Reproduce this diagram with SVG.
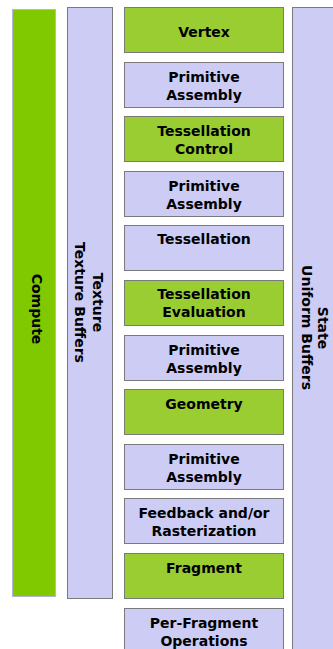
<svg xmlns="http://www.w3.org/2000/svg" width="333" height="649" viewBox="0 0 333 649">
<style>
.g{fill:#9acd32;stroke:#7a7a7a;stroke-width:1}
.l{fill:#ccccf4;stroke:#7a7a7a;stroke-width:1}
.c{fill:#80c800;stroke:#b4b4dc;stroke-width:1}
text{font-family:"DejaVu Sans","Liberation Sans",sans-serif;font-weight:bold;font-size:14px;fill:#000;text-anchor:middle}
</style>
<rect width="333" height="649" fill="#fff"/>
<g id="compute"><rect class="c" x="12.5" y="9.5" width="43" height="587"/><text font-size="16" transform="translate(31.5,309) rotate(90)">Compute</text></g>
<g id="texture"><rect class="l" x="67.5" y="7.5" width="45" height="591"/><text transform="translate(93,302.5) rotate(90)">Texture</text><text transform="translate(74.5,302.5) rotate(90)">Texture Buffers</text></g>
<g id="state"><rect class="l" x="292.5" y="7.5" width="50" height="660"/><text transform="translate(318,328) rotate(90)">State</text><text transform="translate(301.5,327.5) rotate(90)">Uniform Buffers</text></g>
<g id="vertex"><rect class="g" x="124.5" y="7.5" width="159" height="45"/><text x="204" y="36.5">Vertex</text></g>
<g id="pa1"><rect class="l" x="124.5" y="62.5" width="159" height="45"/><text x="204" y="81.5">Primitive</text><text x="204" y="100">Assembly</text></g>
<g id="tc"><rect class="g" x="124.5" y="116.5" width="159" height="45"/><text x="204" y="135.5">Tessellation</text><text x="204" y="154">Control</text></g>
<g id="pa2"><rect class="l" x="124.5" y="171.5" width="159" height="45"/><text x="204" y="190.5">Primitive</text><text x="204" y="209">Assembly</text></g>
<g id="tess"><rect class="l" x="124.5" y="225.5" width="159" height="45"/><text x="204" y="244">Tessellation</text></g>
<g id="te"><rect class="g" x="124.5" y="280.5" width="159" height="45"/><text x="204" y="299">Tessellation</text><text x="204" y="317">Evaluation</text></g>
<g id="pa3"><rect class="l" x="124.5" y="335.5" width="159" height="45"/><text x="204" y="354.5">Primitive</text><text x="204" y="373">Assembly</text></g>
<g id="geometry"><rect class="g" x="124.5" y="389.5" width="159" height="45"/><text x="204" y="408.5">Geometry</text></g>
<g id="pa4"><rect class="l" x="124.5" y="444.5" width="159" height="45"/><text x="204" y="463.5">Primitive</text><text x="204" y="482">Assembly</text></g>
<g id="feedback"><rect class="l" x="124.5" y="498.5" width="159" height="45"/><text x="204" y="517.5">Feedback and/or</text><text x="204" y="536">Rasterization</text></g>
<g id="fragment"><rect class="g" x="124.5" y="553.5" width="159" height="45"/><text x="204" y="572.5">Fragment</text></g>
<g id="perfrag"><rect class="l" x="124.5" y="608.5" width="159" height="45"/><text x="204" y="627.5">Per-Fragment</text><text x="204" y="646">Operations</text></g>
<g id="connectors"/>
</svg>
